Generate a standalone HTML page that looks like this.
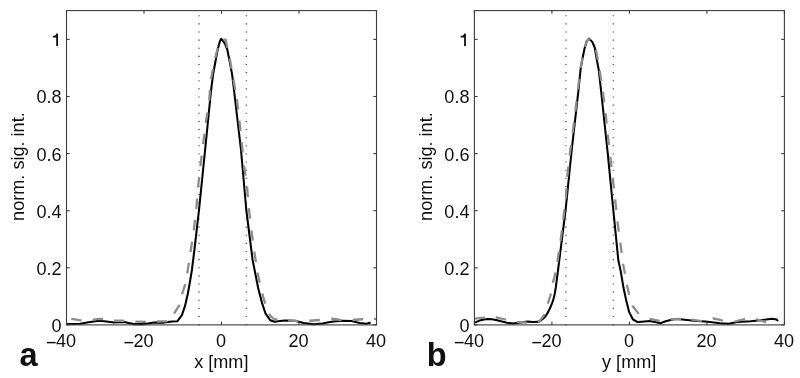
<!DOCTYPE html>
<html><head><meta charset="utf-8"><style>
html,body{margin:0;padding:0;background:#fff;}
svg{display:block;filter:grayscale(1);}
text{font-family:"Liberation Sans", sans-serif;font-size:18.1px;fill:#111;}
</style></head><body>
<svg width="800" height="378" viewBox="0 0 800 378">
<rect width="800" height="378" fill="#fff"/>
<line x1="199.00" y1="325.15" x2="199.00" y2="10.60" stroke="#5e5e5e" stroke-width="1.45" stroke-dasharray="1.1 7.027"/>
<line x1="246.40" y1="325.15" x2="246.40" y2="10.60" stroke="#5e5e5e" stroke-width="1.45" stroke-dasharray="1.1 7.027"/>
<path d="M66.40,324.10 L80.25,323.75 L88.50,322.25 L99.00,320.75 L106.50,321.50 L114.00,322.60 L124.00,321.90 L133.75,324.10 L145.00,324.10 L154.00,322.60 L163.75,322.60 L172.00,321.40 L177.30,321.30 L181.90,315.20 L185.10,305.70 L187.80,293.80 L189.80,282.70 L191.90,270.00 L194.40,250.00 L199.00,210.00 L205.10,150.00 L211.10,90.00 L213.10,74.40 L215.40,61.70 L217.00,53.00 L218.60,45.90 L220.00,41.00 L221.20,38.80 L223.50,41.50 L225.50,45.00 L227.30,49.50 L229.70,61.70 L232.10,74.40 L234.00,90.00 L241.00,150.00 L246.30,210.00 L252.60,260.00 L254.60,270.00 L258.10,287.80 L261.90,302.60 L265.60,313.70 L270.20,320.20 L274.60,321.80 L280.00,321.00 L285.00,320.40 L294.80,320.75 L303.80,323.00 L313.50,324.30 L322.50,323.40 L330.00,321.90 L333.50,321.50 L342.50,320.75 L351.50,321.10 L359.80,323.00 L366.50,323.75 L370.60,322.60" fill="none" stroke="#000" stroke-width="2.05" stroke-linejoin="round"/>
<path d="M69.50,318.60 L75.00,319.40 L80.60,320.40 L86.00,320.60 L92.25,320.00 L97.00,319.20 L101.25,318.90 L107.00,319.90 L113.25,320.75 L123.25,320.75 L134.50,321.50 L145.00,321.90 L156.25,321.50 L166.75,321.10 L170.50,318.50 L170.76,318.14" fill="none" stroke="#8c8c8c" stroke-width="2.3" stroke-dasharray="10.5 11.0" stroke-dashoffset="19.73" stroke-linejoin="round"/>
<path d="M170.76,318.14 L174.00,313.70 L179.80,304.60 L181.90,294.60 L185.40,284.00 L187.40,272.60 L190.60,251.40 L192.98,235.74" fill="none" stroke="#8c8c8c" stroke-width="2.3" stroke-dasharray="10.5 11.0" stroke-dashoffset="16.00" stroke-linejoin="round"/>
<path d="M192.98,235.74 L193.80,230.30 L196.40,207.80 L198.10,186.60 L200.50,165.40 L202.43,149.66" fill="none" stroke="#8c8c8c" stroke-width="2.3" stroke-dasharray="10.5 11.0" stroke-dashoffset="16.00" stroke-linejoin="round"/>
<path d="M202.43,149.66 L203.10,144.20 L206.00,121.70 L208.38,106.04" fill="none" stroke="#8c8c8c" stroke-width="2.3" stroke-dasharray="10.5 11.0" stroke-dashoffset="16.00" stroke-linejoin="round"/>
<path d="M208.38,106.04 L209.20,100.60 L210.80,80.00 L213.30,67.00 L216.00,54.80 L218.30,46.00 L220.50,40.50 L222.50,39.30 L225.80,39.90 L226.70,44.70 L230.30,61.70 L233.50,80.00 L235.95,93.88" fill="none" stroke="#8c8c8c" stroke-width="2.3" stroke-dasharray="10.5 11.0" stroke-dashoffset="16.00" stroke-linejoin="round"/>
<path d="M235.95,93.88 L236.90,99.30 L239.50,121.70 L241.70,142.90 L243.44,159.93" fill="none" stroke="#8c8c8c" stroke-width="2.3" stroke-dasharray="10.5 11.0" stroke-dashoffset="16.00" stroke-linejoin="round"/>
<path d="M243.44,159.93 L244.00,165.40 L246.90,185.30 L248.80,207.80 L250.77,224.84" fill="none" stroke="#8c8c8c" stroke-width="2.3" stroke-dasharray="10.5 11.0" stroke-dashoffset="16.00" stroke-linejoin="round"/>
<path d="M250.77,224.84 L251.40,230.30 L254.30,251.40 L256.68,267.16" fill="none" stroke="#8c8c8c" stroke-width="2.3" stroke-dasharray="10.5 11.0" stroke-dashoffset="16.00" stroke-linejoin="round"/>
<path d="M256.68,267.16 L257.50,272.60 L260.50,286.00 L263.50,298.00 L266.50,308.00 L270.20,315.60 L273.90,319.00 L279.00,320.00 L282.51,320.16" fill="none" stroke="#8c8c8c" stroke-width="2.3" stroke-dasharray="10.5 11.0" stroke-dashoffset="16.00" stroke-linejoin="round"/>
<path d="M282.51,320.16 L288.00,320.40 L297.80,321.10 L304.00,321.30 L309.80,320.75 L319.90,320.00 L325.00,319.00 L325.77,318.94" fill="none" stroke="#8c8c8c" stroke-width="2.3" stroke-dasharray="10.5 11.0" stroke-dashoffset="16.00" stroke-linejoin="round"/>
<path d="M325.77,318.94 L331.25,318.50 L340.25,320.00 L346.00,320.30 L353.00,320.00 L362.00,319.25 L368.00,319.00 L376.00,318.90" fill="none" stroke="#8c8c8c" stroke-width="2.3" stroke-dasharray="10.5 11.0" stroke-dashoffset="16.00" stroke-linejoin="round"/>
<rect x="66.5" y="10.6" width="310.0" height="314.29999999999995" fill="none" stroke="#3d3d3d" stroke-width="1.1"/>
<line x1="66.5" y1="324.90" x2="69.7" y2="324.90" stroke="#3d3d3d" stroke-width="1.1"/>
<line x1="376.5" y1="324.90" x2="373.3" y2="324.90" stroke="#3d3d3d" stroke-width="1.1"/>
<text x="61.60" y="331.80" text-anchor="end">0</text>
<line x1="66.5" y1="267.80" x2="69.7" y2="267.80" stroke="#3d3d3d" stroke-width="1.1"/>
<line x1="376.5" y1="267.80" x2="373.3" y2="267.80" stroke="#3d3d3d" stroke-width="1.1"/>
<text x="61.60" y="274.70" text-anchor="end">0.2</text>
<line x1="66.5" y1="210.70" x2="69.7" y2="210.70" stroke="#3d3d3d" stroke-width="1.1"/>
<line x1="376.5" y1="210.70" x2="373.3" y2="210.70" stroke="#3d3d3d" stroke-width="1.1"/>
<text x="61.60" y="217.60" text-anchor="end">0.4</text>
<line x1="66.5" y1="153.60" x2="69.7" y2="153.60" stroke="#3d3d3d" stroke-width="1.1"/>
<line x1="376.5" y1="153.60" x2="373.3" y2="153.60" stroke="#3d3d3d" stroke-width="1.1"/>
<text x="61.60" y="160.50" text-anchor="end">0.6</text>
<line x1="66.5" y1="96.50" x2="69.7" y2="96.50" stroke="#3d3d3d" stroke-width="1.1"/>
<line x1="376.5" y1="96.50" x2="373.3" y2="96.50" stroke="#3d3d3d" stroke-width="1.1"/>
<text x="61.60" y="103.40" text-anchor="end">0.8</text>
<line x1="66.5" y1="39.40" x2="69.7" y2="39.40" stroke="#3d3d3d" stroke-width="1.1"/>
<line x1="376.5" y1="39.40" x2="373.3" y2="39.40" stroke="#3d3d3d" stroke-width="1.1"/>
<path d="M58.00,46.00 L56.20,46.00 L56.20,37.45 C55.20,37.45 53.80,37.55 52.80,37.55 L52.80,36.05 C55.00,35.85 56.10,34.95 56.40,33.55 L58.00,33.55 Z" fill="#111"/>
<line x1="66.50" y1="324.9" x2="66.50" y2="321.7" stroke="#3d3d3d" stroke-width="1.1"/>
<line x1="66.50" y1="10.6" x2="66.50" y2="13.8" stroke="#3d3d3d" stroke-width="1.1"/>
<text x="66.10" y="347.0" text-anchor="middle">40</text>
<rect x="46.90" y="341.9" width="8.8" height="1.45" fill="#111"/>
<line x1="144.00" y1="324.9" x2="144.00" y2="321.7" stroke="#3d3d3d" stroke-width="1.1"/>
<line x1="144.00" y1="10.6" x2="144.00" y2="13.8" stroke="#3d3d3d" stroke-width="1.1"/>
<text x="143.60" y="347.0" text-anchor="middle">20</text>
<rect x="124.40" y="341.9" width="8.8" height="1.45" fill="#111"/>
<line x1="221.50" y1="324.9" x2="221.50" y2="321.7" stroke="#3d3d3d" stroke-width="1.1"/>
<line x1="221.50" y1="10.6" x2="221.50" y2="13.8" stroke="#3d3d3d" stroke-width="1.1"/>
<text x="221.10" y="347.0" text-anchor="middle">0</text>
<line x1="299.00" y1="324.9" x2="299.00" y2="321.7" stroke="#3d3d3d" stroke-width="1.1"/>
<line x1="299.00" y1="10.6" x2="299.00" y2="13.8" stroke="#3d3d3d" stroke-width="1.1"/>
<text x="298.60" y="347.0" text-anchor="middle">20</text>
<line x1="376.50" y1="324.9" x2="376.50" y2="321.7" stroke="#3d3d3d" stroke-width="1.1"/>
<line x1="376.50" y1="10.6" x2="376.50" y2="13.8" stroke="#3d3d3d" stroke-width="1.1"/>
<text x="376.10" y="347.0" text-anchor="middle">40</text>
<text x="221.30" y="368.2" text-anchor="middle">x [mm]</text>
<text transform="translate(23.90,166.6) rotate(-90)" text-anchor="middle">norm. sig. int.</text>
<text x="19.50" y="366.1" style="font-weight:bold;font-size:32.5px">a</text>
<line x1="565.90" y1="325.15" x2="565.90" y2="10.60" stroke="#5e5e5e" stroke-width="1.45" stroke-dasharray="1.1 7.027"/>
<line x1="613.35" y1="325.15" x2="613.35" y2="10.60" stroke="#5e5e5e" stroke-width="1.45" stroke-dasharray="1.1 7.027"/>
<path d="M474.60,322.60 L479.50,320.60 L484.00,319.50 L488.00,319.10 L492.00,319.30 L497.00,320.20 L502.00,321.60 L507.00,322.70 L513.00,323.60 L520.50,322.60 L527.50,321.50 L533.00,321.90 L538.00,321.80 L540.50,320.60 L543.10,318.70 L545.70,316.00 L548.10,312.10 L550.30,307.50 L552.10,303.10 L553.60,298.50 L554.70,294.00 L555.70,288.00 L558.00,270.50 L559.30,260.00 L565.60,210.00 L571.70,150.00 L578.50,90.00 L580.70,68.10 L582.80,57.00 L584.40,49.00 L586.70,41.10 L589.10,38.70 L592.30,41.90 L594.70,47.50 L596.60,58.60 L598.70,69.70 L601.00,90.00 L607.40,150.00 L613.30,210.00 L618.30,260.00 L620.70,271.10 L623.50,287.80 L626.30,300.70 L629.10,311.90 L632.80,319.30 L637.40,322.00 L642.00,321.70 L649.40,321.10 L655.00,322.00 L660.30,323.20 L665.00,321.50 L667.50,320.75 L675.00,318.90 L682.50,319.60 L693.75,320.75 L705.00,321.50 L712.00,322.30 L720.00,323.30 L728.75,323.80 L737.50,322.10 L750.60,321.20 L757.90,320.40 L765.90,319.60 L772.30,318.70 L776.50,319.40 L778.00,321.20" fill="none" stroke="#000" stroke-width="2.05" stroke-linejoin="round"/>
<path d="M474.75,318.60 L484.50,317.60 L490.00,317.30 L490.25,317.30" fill="none" stroke="#8c8c8c" stroke-width="2.3" stroke-dasharray="10.5 11.0" stroke-dashoffset="0.00" stroke-linejoin="round"/>
<path d="M490.25,317.30 L495.75,317.40 L505.50,319.50 L511.00,320.80 L517.50,321.90 L526.50,322.60 L533.00,322.90 L533.01,322.90" fill="none" stroke="#8c8c8c" stroke-width="2.3" stroke-dasharray="10.5 11.0" stroke-dashoffset="16.00" stroke-linejoin="round"/>
<path d="M533.01,322.90 L538.50,322.60 L541.20,319.00 L544.10,315.20 L546.20,309.50 L547.60,304.10 L550.60,295.00 L552.40,284.10 L554.60,276.70 L556.37,267.40" fill="none" stroke="#8c8c8c" stroke-width="2.3" stroke-dasharray="10.5 11.0" stroke-dashoffset="16.00" stroke-linejoin="round"/>
<path d="M556.37,267.40 L557.40,262.00 L560.60,240.80 L562.53,225.16" fill="none" stroke="#8c8c8c" stroke-width="2.3" stroke-dasharray="10.5 11.0" stroke-dashoffset="16.00" stroke-linejoin="round"/>
<path d="M562.53,225.16 L563.20,219.70 L565.90,197.20 L567.40,175.20 L569.80,154.10 L571.95,138.35" fill="none" stroke="#8c8c8c" stroke-width="2.3" stroke-dasharray="10.5 11.0" stroke-dashoffset="16.00" stroke-linejoin="round"/>
<path d="M571.95,138.35 L572.70,132.90 L575.30,111.70 L577.34,94.76" fill="none" stroke="#8c8c8c" stroke-width="2.3" stroke-dasharray="10.5 11.0" stroke-dashoffset="16.00" stroke-linejoin="round"/>
<path d="M577.34,94.76 L578.00,89.30 L580.20,70.00 L582.60,57.00 L584.60,48.00 L587.00,41.00 L589.00,39.30 L593.00,42.50 L596.00,50.00 L599.00,66.00 L602.08,86.46" fill="none" stroke="#8c8c8c" stroke-width="2.3" stroke-dasharray="10.5 11.0" stroke-dashoffset="16.00" stroke-linejoin="round"/>
<path d="M602.08,86.46 L602.90,91.90 L605.60,113.10 L607.70,134.20 L609.67,151.24" fill="none" stroke="#8c8c8c" stroke-width="2.3" stroke-dasharray="10.5 11.0" stroke-dashoffset="16.00" stroke-linejoin="round"/>
<path d="M609.67,151.24 L610.30,156.70 L612.40,175.00 L615.10,198.80 L616.84,215.83" fill="none" stroke="#8c8c8c" stroke-width="2.3" stroke-dasharray="10.5 11.0" stroke-dashoffset="16.00" stroke-linejoin="round"/>
<path d="M616.84,215.83 L617.40,221.30 L620.30,242.50 L622.30,258.14" fill="none" stroke="#8c8c8c" stroke-width="2.3" stroke-dasharray="10.5 11.0" stroke-dashoffset="16.00" stroke-linejoin="round"/>
<path d="M622.30,258.14 L623.00,263.60 L624.40,271.10 L626.30,282.20 L629.10,294.30 L632.80,306.30 L639.30,314.60 L644.00,317.50 L644.08,317.52" fill="none" stroke="#8c8c8c" stroke-width="2.3" stroke-dasharray="10.5 11.0" stroke-dashoffset="16.00" stroke-linejoin="round"/>
<path d="M644.08,317.52 L649.40,318.90 L660.60,321.10 L666.00,320.00 L671.25,319.25 L681.00,318.90 L686.00,319.20 L686.01,319.20" fill="none" stroke="#8c8c8c" stroke-width="2.3" stroke-dasharray="10.5 11.0" stroke-dashoffset="16.00" stroke-linejoin="round"/>
<path d="M686.01,319.20 L691.50,319.60 L702.00,321.10 L708.00,320.00 L713.25,318.50 L720.00,319.80 L723.50,321.20 L729.00,321.80 L729.40,321.79" fill="none" stroke="#8c8c8c" stroke-width="2.3" stroke-dasharray="10.5 11.0" stroke-dashoffset="16.00" stroke-linejoin="round"/>
<path d="M729.40,321.79 L734.90,321.60 L744.50,319.00 L750.00,319.00 L756.30,319.40 L765.90,322.00 L770.00,322.30" fill="none" stroke="#8c8c8c" stroke-width="2.3" stroke-dasharray="10.5 11.0" stroke-dashoffset="16.00" stroke-linejoin="round"/>
<rect x="474.4" y="10.6" width="310.0" height="314.29999999999995" fill="none" stroke="#3d3d3d" stroke-width="1.1"/>
<line x1="474.4" y1="324.90" x2="477.59999999999997" y2="324.90" stroke="#3d3d3d" stroke-width="1.1"/>
<line x1="784.4" y1="324.90" x2="781.1999999999999" y2="324.90" stroke="#3d3d3d" stroke-width="1.1"/>
<text x="469.50" y="331.80" text-anchor="end">0</text>
<line x1="474.4" y1="267.80" x2="477.59999999999997" y2="267.80" stroke="#3d3d3d" stroke-width="1.1"/>
<line x1="784.4" y1="267.80" x2="781.1999999999999" y2="267.80" stroke="#3d3d3d" stroke-width="1.1"/>
<text x="469.50" y="274.70" text-anchor="end">0.2</text>
<line x1="474.4" y1="210.70" x2="477.59999999999997" y2="210.70" stroke="#3d3d3d" stroke-width="1.1"/>
<line x1="784.4" y1="210.70" x2="781.1999999999999" y2="210.70" stroke="#3d3d3d" stroke-width="1.1"/>
<text x="469.50" y="217.60" text-anchor="end">0.4</text>
<line x1="474.4" y1="153.60" x2="477.59999999999997" y2="153.60" stroke="#3d3d3d" stroke-width="1.1"/>
<line x1="784.4" y1="153.60" x2="781.1999999999999" y2="153.60" stroke="#3d3d3d" stroke-width="1.1"/>
<text x="469.50" y="160.50" text-anchor="end">0.6</text>
<line x1="474.4" y1="96.50" x2="477.59999999999997" y2="96.50" stroke="#3d3d3d" stroke-width="1.1"/>
<line x1="784.4" y1="96.50" x2="781.1999999999999" y2="96.50" stroke="#3d3d3d" stroke-width="1.1"/>
<text x="469.50" y="103.40" text-anchor="end">0.8</text>
<line x1="474.4" y1="39.40" x2="477.59999999999997" y2="39.40" stroke="#3d3d3d" stroke-width="1.1"/>
<line x1="784.4" y1="39.40" x2="781.1999999999999" y2="39.40" stroke="#3d3d3d" stroke-width="1.1"/>
<path d="M465.90,46.00 L464.10,46.00 L464.10,37.45 C463.10,37.45 461.70,37.55 460.70,37.55 L460.70,36.05 C462.90,35.85 464.00,34.95 464.30,33.55 L465.90,33.55 Z" fill="#111"/>
<line x1="474.40" y1="324.9" x2="474.40" y2="321.7" stroke="#3d3d3d" stroke-width="1.1"/>
<line x1="474.40" y1="10.6" x2="474.40" y2="13.8" stroke="#3d3d3d" stroke-width="1.1"/>
<text x="474.00" y="347.0" text-anchor="middle">40</text>
<rect x="454.80" y="341.9" width="8.8" height="1.45" fill="#111"/>
<line x1="551.90" y1="324.9" x2="551.90" y2="321.7" stroke="#3d3d3d" stroke-width="1.1"/>
<line x1="551.90" y1="10.6" x2="551.90" y2="13.8" stroke="#3d3d3d" stroke-width="1.1"/>
<text x="551.50" y="347.0" text-anchor="middle">20</text>
<rect x="532.30" y="341.9" width="8.8" height="1.45" fill="#111"/>
<line x1="629.40" y1="324.9" x2="629.40" y2="321.7" stroke="#3d3d3d" stroke-width="1.1"/>
<line x1="629.40" y1="10.6" x2="629.40" y2="13.8" stroke="#3d3d3d" stroke-width="1.1"/>
<text x="629.00" y="347.0" text-anchor="middle">0</text>
<line x1="706.90" y1="324.9" x2="706.90" y2="321.7" stroke="#3d3d3d" stroke-width="1.1"/>
<line x1="706.90" y1="10.6" x2="706.90" y2="13.8" stroke="#3d3d3d" stroke-width="1.1"/>
<text x="706.50" y="347.0" text-anchor="middle">20</text>
<line x1="784.40" y1="324.9" x2="784.40" y2="321.7" stroke="#3d3d3d" stroke-width="1.1"/>
<line x1="784.40" y1="10.6" x2="784.40" y2="13.8" stroke="#3d3d3d" stroke-width="1.1"/>
<text x="784.00" y="347.0" text-anchor="middle">40</text>
<text x="629.20" y="368.2" text-anchor="middle">y [mm]</text>
<text transform="translate(431.80,166.6) rotate(-90)" text-anchor="middle">norm. sig. int.</text>
<text x="426.80" y="366.1" style="font-weight:bold;font-size:32.5px">b</text>
</svg>
</body></html>
